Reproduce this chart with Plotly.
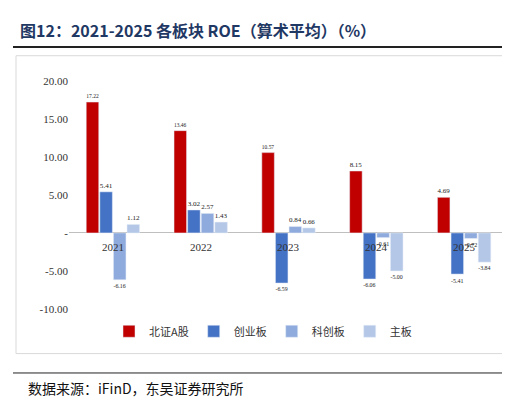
import plotly.graph_objects as go

years = ["2021", "2022", "2023", "2024", "2025"]
series = ["北证A股", "创业板", "科创板", "主板"]
bz = [17.22, 13.46, 10.57, 8.15, 4.69]
cy = [5.41, 3.02, -6.59, -6.06, -5.41]
kc = [-6.16, 2.57, 0.84, -0.61, -0.72]
zb = [1.12, 1.43, 0.66, -5.00, -3.84]
colors = ["#C00000", "#4472C4", "#8FAADC", "#B4C7E7"]
tickvals = [20, 15, 10, 5, 0, -5, -10]
ticktext = ["20.00", "15.00", "10.00", "5.00", "-", "-5.00", "-10.00"]

W, H = 510, 403
def py(p): return 1 - p / H
def px(p): return p / W

fig = go.Figure()
for name, vals, c in zip(series, [bz, cy, kc, zb], colors):
    fig.add_trace(go.Bar(x=years, y=vals, name=name, marker_color=c,
                         text=[f"{v:.2f}" for v in vals], textposition="outside",
                         textfont=dict(size=11, color="#222"), cliponaxis=False))

for i, y in enumerate(years):
    fig.add_annotation(x=i, y=0, xref="x", yref="y", text=y, showarrow=False, yshift=-14,
                       font=dict(size=11, color="#333"))

fig.add_shape(type="rect", xref="paper", yref="paper", x0=px(8), x1=px(500),
              y0=py(350), y1=py(43), line=dict(color="#D9D9D9", width=1))
fig.add_shape(type="line", xref="paper", yref="paper", x0=px(5), x1=px(505),
              y0=py(34), y1=py(34), line=dict(color="#222", width=2))
fig.add_shape(type="line", xref="paper", yref="paper", x0=px(5), x1=px(505),
              y0=py(370), y1=py(370), line=dict(color="#222", width=1))
fig.add_annotation(xref="paper", yref="paper", x=px(10), y=py(17), xanchor="left",
                   yanchor="middle", showarrow=False,
                   text="<b>图12：2021-2025 各板块 ROE（算术平均）（%）</b>",
                   font=dict(size=16, color="#1F3864", family="Noto Sans CJK SC"))
fig.add_annotation(xref="paper", yref="paper", x=px(18), y=py(385), xanchor="left",
                   yanchor="middle", showarrow=False,
                   text="数据来源：iFinD，东吴证券研究所",
                   font=dict(size=14, color="#111", family="Noto Sans CJK SC"))

fig.update_layout(
    width=W, height=H, margin=dict(l=0, r=0, t=0, b=0),
    paper_bgcolor="white", plot_bgcolor="white",
    font=dict(family="Liberation Serif", size=11, color="#333"),
    barmode="group", bargap=0.38, bargroupgap=0.08,
    xaxis=dict(type="category", domain=[px(61), px(500)], showticklabels=False,
               showline=False, zeroline=False, showgrid=False, range=[-0.5, 4.5]),
    yaxis=dict(domain=[py(304), py(69)], range=[-10, 20], autorange=False,
               tickvals=tickvals, ticktext=ticktext, showgrid=False, zeroline=True,
               zerolinecolor="#BFBFBF", zerolinewidth=1, showline=False,
               tickfont=dict(size=11, color="#333")),
    showlegend=True,
    legend=dict(orientation="h", x=0.5, xanchor="center", y=py(327), yanchor="middle",
                font=dict(size=11, family="Noto Sans CJK SC"), itemwidth=30),
)
fig.write_html("out.html")
